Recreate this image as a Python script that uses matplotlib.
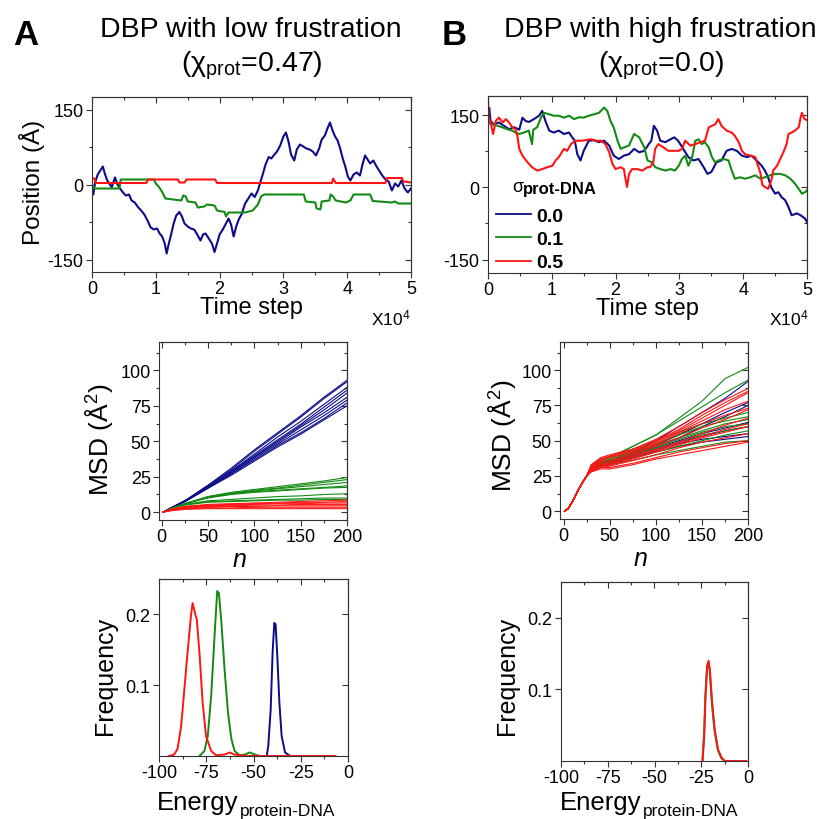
import numpy as np
import matplotlib
matplotlib.use("Agg")
import matplotlib.pyplot as plt
from matplotlib.ticker import FixedLocator
from matplotlib.lines import Line2D

plt.rcParams["font.family"] = ["Liberation Sans", "DejaVu Sans"]
plt.rcParams["mathtext.fontset"] = "custom"
plt.rcParams["mathtext.rm"] = "Liberation Sans"
plt.rcParams["mathtext.it"] = "Liberation Sans:italic"
plt.rcParams["mathtext.bf"] = "Liberation Sans:bold"
plt.rcParams["axes.unicode_minus"] = False

BLUE = "#0c0c8a"
GREEN = "#138a13"
RED = "#ff1414"

# ---- top row: position vs time step (time in units of 1e4 steps) ----
traj_a_blue = [
    (0, -10), (0.02, -20), (0.05, 5), (0.09, 20), (0.13, 28), (0.17, 36), (0.2, 22), (0.24, 8),
    (0.28, 0), (0.31, -5), (0.36, 14), (0.4, 0), (0.44, -8), (0.48, -15), (0.53, -22), (0.58, -20),
    (0.62, -32), (0.67, -36), (0.72, -45), (0.77, -52), (0.82, -60), (0.87, -72), (0.92, -86),
    (0.97, -90), (1.02, -88), (1.06, -98), (1.1, -104), (1.14, -118), (1.17, -138), (1.2, -120),
    (1.24, -100), (1.28, -78), (1.32, -62), (1.37, -55), (1.41, -64), (1.45, -78), (1.5, -84),
    (1.55, -88), (1.6, -90), (1.65, -100), (1.7, -112), (1.74, -100), (1.78, -98), (1.83, -108),
    (1.88, -118), (1.92, -135), (1.96, -118), (2.0, -100), (2.05, -90), (2.1, -78), (2.14, -68),
    (2.18, -80), (2.22, -104), (2.26, -84), (2.3, -70), (2.35, -58), (2.4, -38), (2.45, -28),
    (2.5, -18), (2.55, -25), (2.6, -12), (2.64, 5), (2.68, 22), (2.72, 40), (2.77, 55), (2.81, 52),
    (2.86, 60), (2.9, 66), (2.95, 78), (3.0, 96), (3.04, 104), (3.08, 86), (3.12, 60), (3.17, 48),
    (3.21, 70), (3.26, 80), (3.31, 76), (3.36, 72), (3.41, 70), (3.46, 66), (3.51, 58), (3.56, 72),
    (3.6, 90), (3.65, 98), (3.69, 112), (3.73, 124), (3.77, 108), (3.81, 96), (3.85, 88), (3.89, 72),
    (3.93, 52), (3.97, 36), (4.01, 16), (4.05, 8), (4.1, 20), (4.15, 24), (4.2, 18), (4.24, 40),
    (4.28, 58), (4.32, 50), (4.36, 42), (4.41, 48), (4.46, 36), (4.5, 28), (4.55, 18), (4.6, 10),
    (4.65, 6), (4.7, -12), (4.75, 2), (4.8, -4), (4.85, 8), (4.9, -8), (4.95, -16), (5.0, -8),
]
traj_a_green = [
    (0, 0), (0.02, -5), (0.04, -8), (0.43, -8), (0.45, 10), (0.97, 10), (1.0, 2), (1.05, -5),
    (1.1, -15), (1.15, -28), (1.4, -32), (1.43, -22), (1.47, -24), (1.5, -34), (1.62, -36),
    (1.66, -46), (1.76, -44), (1.8, -40), (1.92, -42), (1.96, -52), (2.08, -55), (2.1, -64),
    (2.14, -56), (2.4, -56), (2.52, -52), (2.6, -40), (2.65, -24), (2.7, -20), (3.32, -20),
    (3.35, -34), (3.5, -36), (3.52, -48), (3.58, -50), (3.6, -34), (3.72, -32), (3.74, -20),
    (3.78, -24), (3.82, -32), (3.98, -36), (4.05, -32), (4.1, -20), (4.36, -20), (4.4, -33),
    (4.7, -36), (4.75, -34), (4.8, -38), (5.0, -38),
]
traj_a_red = [
    (0, 12), (0.04, 12), (0.06, 3), (0.85, 3), (0.88, 10), (1.35, 10), (1.37, 4), (1.45, 4),
    (1.48, 10), (1.93, 10), (1.96, 3), (3.76, 3), (3.78, 12), (3.82, 3), (4.6, 3), (4.62, 13),
    (4.86, 13), (4.88, 6), (5.0, 4),
]
traj_b_blue = [
    (0, 150), (0.02, 165), (0.04, 138), (0.09, 131), (0.17, 135), (0.25, 128), (0.33, 121),
    (0.41, 125), (0.49, 120), (0.54, 145), (0.59, 138), (0.64, 136), (0.72, 142), (0.8, 149),
    (0.85, 159), (0.9, 138), (0.96, 118), (1.03, 114), (1.11, 118), (1.19, 111), (1.27, 114),
    (1.32, 104), (1.36, 97), (1.4, 69), (1.45, 56), (1.5, 76), (1.58, 97), (1.66, 98), (1.74, 94),
    (1.82, 97), (1.9, 87), (1.97, 66), (2.05, 59), (2.13, 66), (2.21, 69), (2.29, 80), (2.37, 73),
    (2.45, 76), (2.52, 90), (2.56, 97), (2.6, 128), (2.65, 118), (2.7, 97), (2.78, 94), (2.86, 100),
    (2.92, 104), (2.98, 97), (3.06, 80), (3.14, 63), (3.22, 56), (3.3, 59), (3.38, 42), (3.44, 28),
    (3.5, 32), (3.58, 52), (3.66, 56), (3.74, 76), (3.82, 80), (3.9, 76), (3.98, 66), (4.06, 63),
    (4.13, 66), (4.21, 56), (4.29, 45), (4.34, 35), (4.39, 21), (4.44, 0), (4.5, -13), (4.55, -10),
    (4.6, -20), (4.66, -27), (4.71, -41), (4.76, -58), (4.84, -54), (4.9, -58), (4.97, -65),
    (5.0, -72),
]
traj_b_green = [
    (0, 135), (0.07, 131), (0.15, 128), (0.22, 125), (0.3, 121), (0.38, 118), (0.43, 114),
    (0.49, 111), (0.56, 114), (0.64, 118), (0.69, 90), (0.71, 120), (0.77, 125), (0.83, 145),
    (0.88, 155), (0.96, 152), (1.03, 149), (1.11, 149), (1.19, 145), (1.27, 149), (1.35, 142),
    (1.43, 146), (1.5, 145), (1.58, 149), (1.66, 152), (1.74, 155), (1.82, 166), (1.87, 159),
    (1.92, 138), (1.97, 125), (2.03, 97), (2.08, 80), (2.13, 83), (2.21, 87), (2.29, 111),
    (2.37, 104), (2.45, 83), (2.5, 56), (2.57, 52), (2.62, 42), (2.7, 38), (2.78, 35), (2.86, 38),
    (2.93, 35), (2.99, 45), (3.04, 59), (3.09, 66), (3.14, 45), (3.2, 63), (3.25, 97), (3.3, 100),
    (3.35, 90), (3.4, 94), (3.46, 83), (3.51, 63), (3.56, 52), (3.61, 56), (3.69, 59), (3.77, 56),
    (3.82, 35), (3.87, 18), (3.95, 21), (4.03, 18), (4.11, 21), (4.19, 25), (4.27, 18), (4.34, 21),
    (4.42, 25), (4.5, 28), (4.58, 28), (4.66, 25), (4.74, 18), (4.81, 8), (4.87, -3), (4.92, -13),
    (4.97, -10), (5.0, -6),
]
traj_b_red = [
    (0, 186), (0.01, 145), (0.04, 135), (0.08, 111), (0.12, 138), (0.17, 145), (0.23, 135),
    (0.28, 142), (0.33, 135), (0.38, 125), (0.43, 121), (0.46, 107), (0.49, 80), (0.54, 66),
    (0.62, 52), (0.69, 42), (0.77, 35), (0.85, 38), (0.93, 42), (1.01, 45), (1.06, 56), (1.11, 63),
    (1.19, 80), (1.24, 76), (1.3, 90), (1.37, 97), (1.45, 97), (1.53, 98), (1.61, 100), (1.69, 97),
    (1.77, 97), (1.84, 90), (1.9, 73), (1.95, 49), (2.0, 38), (2.08, 42), (2.13, 38), (2.16, 14),
    (2.18, 1), (2.21, 28), (2.26, 38), (2.34, 38), (2.42, 35), (2.5, 42), (2.54, 42), (2.59, 52),
    (2.62, 80), (2.67, 90), (2.75, 83), (2.83, 76), (2.91, 76), (2.99, 76), (3.04, 80), (3.09, 97),
    (3.17, 87), (3.25, 90), (3.33, 94), (3.4, 97), (3.46, 125), (3.51, 128), (3.56, 131),
    (3.61, 142), (3.66, 128), (3.74, 118), (3.82, 114), (3.87, 107), (3.93, 94), (3.98, 76),
    (4.03, 69), (4.11, 66), (4.19, 63), (4.22, 50), (4.27, 30), (4.3, 5), (4.34, 1), (4.39, -3),
    (4.44, 14), (4.47, 35), (4.53, 45), (4.58, 59), (4.63, 73), (4.68, 90), (4.71, 111), (4.76, 114),
    (4.81, 118), (4.87, 125), (4.9, 145), (4.92, 155), (4.96, 142), (5.0, 140),
]

# ---- middle row: MSD vs n ----
n_a = [1, 10, 25, 50, 75, 100, 125, 150, 175, 200]
msd_a_blue = [
    [0, 3, 8, 19, 31, 44, 56, 68, 81, 93],
    [0, 3, 8, 19, 30, 43, 55, 67, 80, 92],
    [0, 3, 8, 18, 29, 41, 53, 64, 76, 88],
    [0, 3, 8, 18, 29, 40, 51, 62, 74, 86],
    [0, 3, 8, 18, 28, 39, 50, 61, 72, 84],
    [0, 3, 8, 18, 28, 39, 49, 60, 70, 81],
    [0, 3, 7.5, 17, 27, 38, 48, 58, 68, 79],
    [0, 3, 7.5, 17, 27, 37, 47, 56, 66, 77],
    [0, 3, 7.5, 17, 26, 36, 46, 55, 65, 75],
]
msd_a_green = [
    [0, 2.5, 6, 11, 14, 16, 18, 20, 22, 24.5],
    [0, 2.5, 6, 11, 13.5, 15.5, 17, 19, 21, 23],
    [0, 2.5, 6, 10.5, 13, 15, 16.5, 18, 19.5, 21],
    [0, 2.5, 6, 10.5, 13, 14.5, 15.5, 16.5, 17.5, 18.5],
    [0, 2.5, 6, 10, 12.5, 14, 15, 16, 17, 17.5],
    [0, 2.5, 5.5, 8, 9, 10, 11, 11.5, 12.5, 13],
    [0, 2.5, 5.5, 7.5, 8, 8.5, 9, 9.5, 10, 10],
    [0, 2.5, 5, 7, 7.5, 8, 8.5, 8.5, 9, 9],
]
msd_a_red = [
    [0, 2, 4, 5.5, 6, 6.5, 7, 7.5, 8, 8.5],
    [0, 2, 4, 5, 5.5, 6, 6.5, 7, 7, 7.5],
    [0, 2, 3.5, 4.5, 5, 5.5, 6, 6, 6.5, 6.5],
    [0, 1.5, 3, 4, 4.5, 5, 5, 5.5, 5.5, 5.5],
    [0, 1.5, 3, 3.5, 4, 4, 4.5, 4.5, 4.5, 4.5],
    [0, 1.5, 2.5, 3, 3, 3.5, 3.5, 3.5, 3.5, 3.5],
    [0, 1, 2, 2.5, 2.5, 2.5, 2.5, 2.5, 2.5, 2.5],
]

n_b_early = [1, 5, 10, 15, 20, 25]
msd_b_early = [0, 2, 7.5, 14, 20, 25]
n_b_late = [30, 40, 50, 75, 100, 125, 150, 175, 200]
msd_b_blue = [
    [31, 35, 36, 42, 50, 60, 70, 80, 92],
    [30, 34, 35, 41, 47, 54, 62, 70, 77],
    [30, 33, 35, 40, 46, 52, 60, 67, 75],
    [30, 33, 34, 40, 45, 50, 55, 59, 63],
    [30, 33, 34, 39, 44, 49, 53, 57, 60],
    [29, 32, 33, 38, 43, 48, 51, 53, 55],
    [29, 32, 33, 38, 42, 46, 49, 51, 53],
]
msd_b_green = [
    [32, 36, 38, 46, 54, 66, 78, 94, 102],
    [32, 36, 38, 46, 54, 64, 74, 84, 93],
    [31, 35, 37, 44, 50, 56, 62, 66, 70],
    [31, 35, 36, 43, 48, 54, 60, 64, 67],
    [31, 34, 36, 42, 47, 52, 57, 62, 65],
    [30, 34, 35, 41, 46, 51, 56, 60, 62],
    [30, 33, 35, 40, 45, 49, 54, 57, 60],
    [30, 33, 34, 38, 42, 46, 50, 54, 57],
    [29, 32, 33, 36, 40, 43, 46, 49, 50],
]
msd_b_red = [
    [33, 37, 39, 44, 51, 60, 70, 79, 87],
    [33, 38, 40, 44, 50, 58, 68, 77, 85],
    [32, 37, 39, 43, 49, 57, 66, 75, 84],
    [32, 36, 38, 42, 48, 56, 64, 72, 78],
    [31, 35, 36, 41, 47, 55, 62, 68, 73],
    [31, 34, 35, 40, 46, 52, 59, 65, 72],
    [30, 33, 34, 39, 44, 49, 55, 61, 66],
    [30, 33, 33, 38, 43, 48, 53, 58, 62],
    [29, 32, 33, 37, 42, 47, 52, 56, 60],
    [29, 31, 32, 36, 40, 45, 49, 52, 55],
    [28, 31, 31, 34, 38, 42, 45, 48, 50],
    [28, 30, 30, 33, 37, 40, 43, 46, 49],
]

# ---- bottom row: energy histograms ----
freq_a_red = [
    (-94.7, 0), (-92, 0.002), (-90.2, 0.01), (-88.4, 0.04), (-87.5, 0.066), (-84.9, 0.146),
    (-83.1, 0.198), (-82.2, 0.216), (-80.8, 0.2), (-80, 0.193), (-78.6, 0.146), (-76.9, 0.075),
    (-75.1, 0.028), (-72.4, 0.007), (-69.8, 0.001), (-65.3, 0.002), (-62.6, 0.005), (-60, 0.002),
    (-56.4, 0.001), (-53.7, 0), (-6.6, 0),
]
freq_a_green = [
    (-78.6, 0), (-76, 0.007), (-74.2, 0.028), (-72.4, 0.085), (-70.6, 0.17), (-69.2, 0.233),
    (-68.3, 0.23), (-67.1, 0.193), (-65.3, 0.122), (-63.5, 0.061), (-61.7, 0.024), (-60, 0.007),
    (-57.3, 0.001), (-54.6, 0.002), (-52, 0.005), (-49.3, 0.002), (-46.6, 0), (-43, 0),
]
freq_a_blue = [
    (-43, 0), (-42.2, 0.014), (-40.9, 0.066), (-39.9, 0.146), (-39, 0.188), (-38.3, 0.186),
    (-37.4, 0.141), (-36.3, 0.075), (-35.1, 0.028), (-33.3, 0.005), (-30.6, 0),
]
freq_b_green = [
    (-24.4, 0), (-23.5, 0.037), (-22.8, 0.092), (-21.9, 0.132), (-21.2, 0.138), (-20.5, 0.127),
    (-19.3, 0.08), (-17.9, 0.042), (-16.1, 0.015), (-14.3, 0.004), (-12.5, 0),
]
freq_b_red = [
    (-24.3, 0), (-23.4, 0.035), (-22.7, 0.091), (-21.8, 0.133), (-21.1, 0.14), (-20.4, 0.128),
    (-19.2, 0.082), (-17.8, 0.044), (-16, 0.016), (-14.2, 0.005), (-12.4, 0), (-0.9, 0),
]

sigma_labels = ["0.0", "0.1", "0.5"]
colors = [BLUE, GREEN, RED]

SPINE = "#333333"


def frame(ax, xmaj, xmin, ymaj, ymin):
    for s in ax.spines.values():
        s.set_color(SPINE)
        s.set_linewidth(0.8)
    ax.xaxis.set_major_locator(FixedLocator(xmaj))
    ax.xaxis.set_minor_locator(FixedLocator(xmin))
    ax.yaxis.set_major_locator(FixedLocator(ymaj))
    ax.yaxis.set_minor_locator(FixedLocator(ymin))
    ax.tick_params(which="both", direction="out", colors=SPINE, labelcolor="black",
                   labelsize=13, width=0.8, pad=2)
    ax.tick_params(which="major", length=4)
    ax.tick_params(which="minor", length=2.5)
    top = ax.secondary_xaxis("top")
    top.xaxis.set_major_locator(FixedLocator(xmaj))
    top.xaxis.set_minor_locator(FixedLocator(xmin))
    top.tick_params(which="both", direction="in", labeltop=False, colors=SPINE, width=0.8)
    top.tick_params(which="major", length=4)
    top.tick_params(which="minor", length=2.5)
    top.spines["top"].set_color(SPINE)
    top.spines["top"].set_linewidth(0.8)
    right = ax.secondary_yaxis("right")
    right.yaxis.set_major_locator(FixedLocator(ymaj))
    right.yaxis.set_minor_locator(FixedLocator(ymin))
    right.tick_params(which="both", direction="in", labelright=False, colors=SPINE, width=0.8)
    right.tick_params(which="major", length=4)
    right.tick_params(which="minor", length=2.5)
    right.spines["right"].set_color(SPINE)
    right.spines["right"].set_linewidth(0.8)


W, H = 817, 820
fig = plt.figure(figsize=(W / 100, H / 100), dpi=100)


def box(l, r, t, b):
    return [l / W, 1 - b / H, (r - l) / W, (b - t) / H]


def fx(px):
    return px / W


def fy(py):
    return 1 - py / H


ax_a1 = fig.add_axes(box(92, 411, 98, 273))
ax_b1 = fig.add_axes(box(488, 807, 97, 274))
ax_a2 = fig.add_axes(box(159, 347, 343, 521))
ax_b2 = fig.add_axes(box(560, 748, 343, 520))
ax_a3 = fig.add_axes(box(159, 348, 580, 757))
ax_b3 = fig.add_axes(box(561, 748, 583, 762))

# top row
for ax, trajs, ylim in [
    (ax_a1, [traj_a_blue, traj_a_green, traj_a_red], (-175, 175)),
    (ax_b1, [traj_b_blue, traj_b_green, traj_b_red], (-178, 190)),
]:
    for tr, c in zip(trajs, colors):
        arr = np.array(tr)
        ax.plot(arr[:, 0], arr[:, 1], color=c, lw=1.5)
    ax.set_xlim(0, 5)
    ax.set_ylim(*ylim)
    frame(ax, [0, 1, 2, 3, 4, 5], np.arange(0, 5.01, 0.5), [-150, 0, 150], [-75, 75])
    ax.set_xlabel("Time step", fontsize=17, labelpad=-1)

ax_a1.set_ylabel("Position (Å)", fontsize=17.5, labelpad=2)
ax_a1.yaxis.label.set_y(0.52)
fig.text(fx(410), fy(325), "X10$^{4}$", fontsize=12.5, ha="right", va="baseline")
fig.text(fx(808), fy(325), "X10$^{4}$", fontsize=12.5, ha="right", va="baseline")

handles = [Line2D([], [], color=c, lw=1.3) for c in colors]
ax_b1.legend(handles, sigma_labels, loc="lower left", bbox_to_anchor=(0.0, -0.035),
             frameon=False, prop={"weight": "bold", "size": 14}, handlelength=1.8,
             handletextpad=0.3, labelspacing=0.3, borderpad=0.2, borderaxespad=0.2)
fig.text(fx(512), fy(192), "σ", fontsize=13, ha="left", va="baseline")
fig.text(fx(523), fy(194), "prot-DNA", fontsize=12, fontweight="bold", ha="left", va="baseline")

# middle row
for curves, c in [(msd_a_blue, BLUE), (msd_a_green, GREEN), (msd_a_red, RED)]:
    for cv in curves:
        ax_a2.plot(n_a, cv, color=c, lw=0.8)

for curves, c in [(msd_b_blue, BLUE), (msd_b_green, GREEN), (msd_b_red, RED)]:
    for cv in curves:
        ax_b2.plot(n_b_early + n_b_late, msd_b_early + cv, color=c, lw=0.8)

for ax, xl, pad, ly in [(ax_a2, (-3, 200), 4, 0.455), (ax_b2, (-4, 200), 2.5, 0.475)]:
    ax.set_xlim(*xl)
    ax.set_ylim(-5.5, 120)
    frame(ax, [0, 50, 100, 150, 200], np.arange(0, 201, 25), [0, 25, 50, 75, 100],
          np.arange(0, 120, 12.5))
    ax.set_xlabel("n", fontsize=18, style="italic", labelpad=1)
    ax.xaxis.label.set_x(0.43)
    ax.set_ylabel("MSD (Å$^2$)", fontsize=19, labelpad=pad)
    ax.yaxis.label.set_y(ly)

# bottom row
for ax, series, ly in [
    (ax_a3, [(freq_a_blue, BLUE), (freq_a_green, GREEN), (freq_a_red, RED)], 0.458),
    (ax_b3, [(freq_b_green, GREEN), (freq_b_red, RED)], 0.48),
]:
    for pts, c in series:
        arr = np.array(pts)
        ax.plot(arr[:, 0], arr[:, 1], color=c, lw=1.4)
    ax.set_xlim(-100, 0)
    ax.set_ylim(0, 0.25)
    frame(ax, [-100, -75, -50, -25, 0], np.arange(-100, 0.1, 12.5), [0.1, 0.2], [])
    ax.set_ylabel("Frequency", fontsize=18, labelpad=6)
    ax.yaxis.label.set_y(ly)

# energy axis labels: main word plus smaller lowered subscript
renderer = fig.canvas.get_renderer()
for x0 in [157, 560]:
    t = fig.text(fx(x0), fy(810), "Energy", fontsize=18.5, ha="left", va="baseline")
    bb = t.get_window_extent(renderer)
    fig.text(bb.x1 / W + 1 / W, fy(816), "protein-DNA", fontsize=12.5, ha="left", va="baseline")

# titles and panel letters
fig.text(fx(26), fy(45), "A", fontsize=25, fontweight="bold", ha="center", va="baseline")
fig.text(fx(454), fy(45), "B", fontsize=25, fontweight="bold", ha="center", va="baseline")
fig.text(fx(251), fy(37), "DBP with low frustration", fontsize=20.5, ha="center", va="baseline")
fig.text(fx(252), fy(72), r"(χ$_{\mathrm{prot}}$=0.47)", fontsize=20.5, ha="center", va="baseline")
fig.text(fx(660), fy(37), "DBP with high frustration", fontsize=20.5, ha="center", va="baseline")
fig.text(fx(661), fy(72), r"(χ$_{\mathrm{prot}}$=0.0)", fontsize=20.5, ha="center", va="baseline")

fig.savefig("out.png", dpi=100)
